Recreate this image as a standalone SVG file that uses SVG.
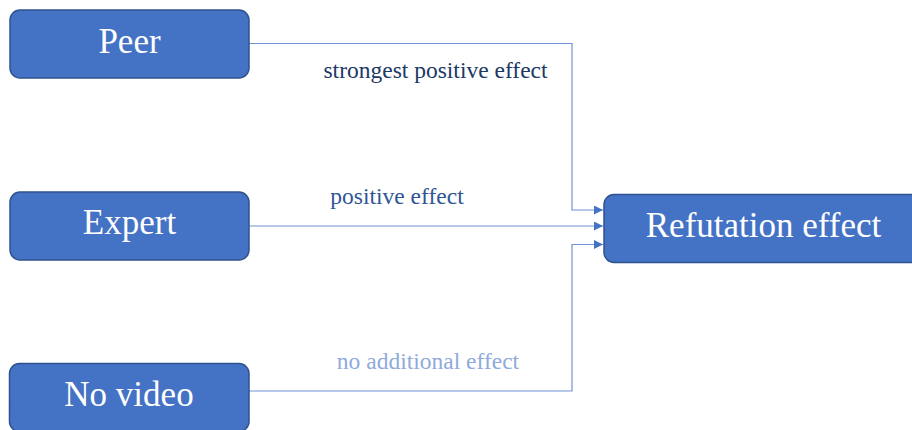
<svg xmlns="http://www.w3.org/2000/svg" width="912" height="430" viewBox="0 0 912 430">
<defs>
<style>
.box{fill:#4472C4;stroke:#2F528F;stroke-width:1.5}
.nt{font-family:"Liberation Serif","Times New Roman",serif;font-size:35px;fill:#FFFFFF;text-anchor:middle}
.conn{fill:none;stroke:#6F93D4;stroke-width:1.2}
.lbl{font-family:"Liberation Serif","Times New Roman",serif;font-size:23.5px}
</style>
<marker id="arr" viewBox="0 0 10 10" refX="10" refY="5" markerWidth="10" markerHeight="9" markerUnits="userSpaceOnUse" orient="auto">
<path d="M0,0 L10,5 L0,10 z" fill="#4472C4"/>
</marker>
</defs>
<rect width="912" height="430" fill="#FFFFFF"/>
<g id="connectors">
<path class="conn" d="M249,43.5 H572 V210 H603" marker-end="url(#arr)"/>
<path class="conn" d="M249,226 H603" marker-end="url(#arr)"/>
<path class="conn" d="M249,391 H572 V244.5 H603" marker-end="url(#arr)"/>
<text class="lbl" x="435.5" y="77.5" text-anchor="middle" fill="#203864">strongest positive effect</text>
<text class="lbl" x="397" y="203.5" text-anchor="middle" fill="#2F5597">positive effect</text>
<text class="lbl" x="428" y="368.5" text-anchor="middle" fill="#8FAADC">no additional effect</text>
</g>
<g id="peer">
<rect class="box" x="10" y="10" width="239" height="68" rx="10"/>
<text class="nt" x="129.5" y="53">Peer</text>
</g>
<g id="expert">
<rect class="box" x="10" y="192" width="239" height="68" rx="10"/>
<text class="nt" x="129.5" y="234">Expert</text>
</g>
<g id="novideo">
<rect class="box" x="9.5" y="363.5" width="239.5" height="68" rx="10"/>
<text class="nt" x="129" y="406">No video</text>
</g>
<g id="refutation">
<rect class="box" x="604" y="194.5" width="320" height="68" rx="10"/>
<text class="nt" x="763.5" y="237">Refutation effect</text>
</g>
</svg>
